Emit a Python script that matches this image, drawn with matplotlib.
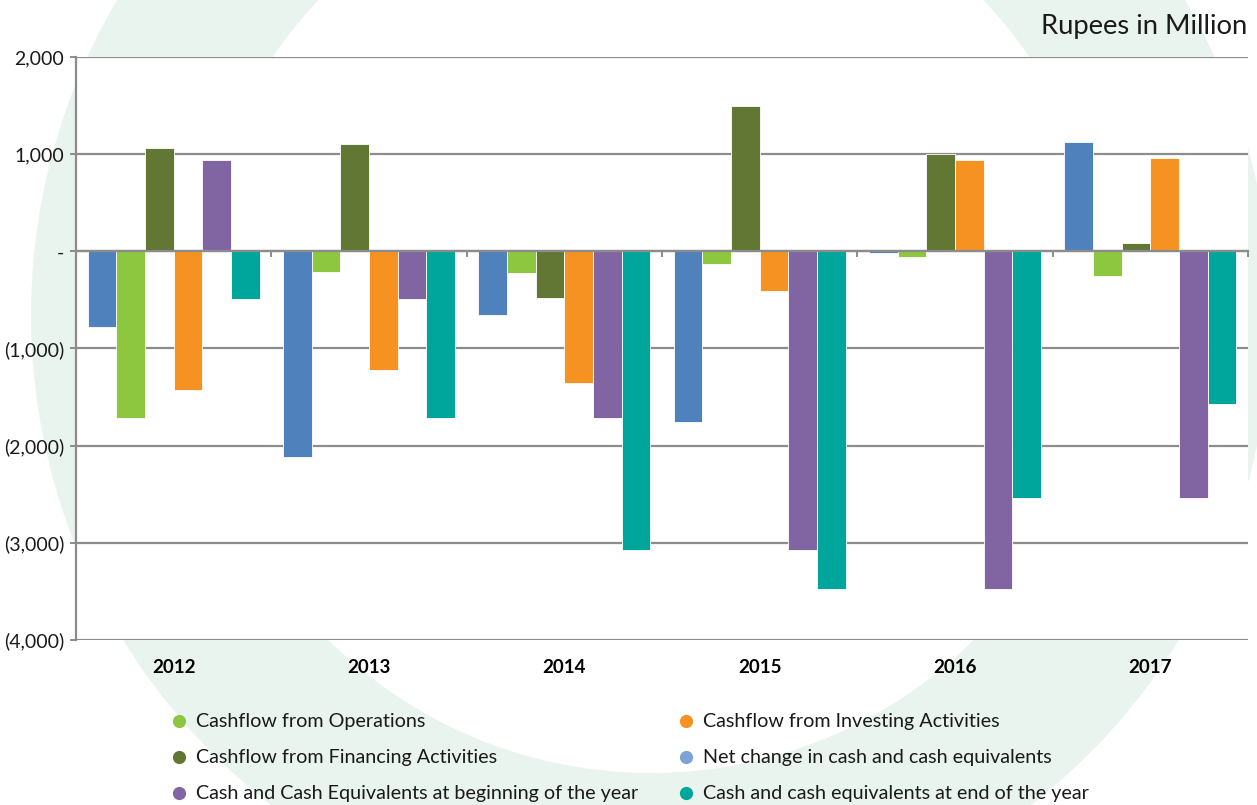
import matplotlib
matplotlib.use('Agg')
import matplotlib.pyplot as plt
import numpy as np
from matplotlib.patches import Wedge
from matplotlib.ticker import FuncFormatter

plt.rcParams['font.family'] = ['Lato', 'DejaVu Sans']

years = ['2012', '2013', '2014', '2015', '2016', '2017']

# Rupees in million, per year
net_change = [-774, -2121, -651, -1761, -14, 1127]
cf_operations = [-1720, -209, -226, -130, -55, -253]
cf_financing = [1059, 1103, -480, 1493, 1005, 82]
cf_investing = [-1429, -1220, -1357, -404, 935, 963]
cash_begin = [935, -493, -1713, -3070, -3471, -2535]
cash_end = [-493, -1713, -3070, -3471, -2535, -1569]

series = [
    ('Net change in cash and cash equivalents', net_change, '#4F81BD'),
    ('Cashflow from Operations', cf_operations, '#8DC63F'),
    ('Cashflow from Financing Activities', cf_financing, '#617733'),
    ('Cashflow from Investing Activities', cf_investing, '#F59222'),
    ('Cash and Cash Equivalents at beginning of the year', cash_begin, '#8165A2'),
    ('Cash and cash equivalents at end of the year', cash_end, '#00A69C'),
]

W, H = 1257, 805
fig = plt.figure(figsize=(W / 100, H / 100), dpi=100)

# background ring, drawn in pixel coordinates
bg = fig.add_axes([0, 0, 1, 1], zorder=0)
bg.set_xlim(0, W)
bg.set_ylim(H, 0)
bg.axis('off')
bg.add_patch(Wedge((651, 315), 620, 0, 360, width=162, color='#EAF4EE', lw=0))

ax = fig.add_axes([76 / W, 1 - 640 / H, (1248 - 76) / W, (640 - 57) / H], zorder=1)
ax.set_facecolor('white')

x = np.arange(len(years))
bw = 0.147
for k, (name, vals, col) in enumerate(series):
    ax.bar(x + (k - 2.5) * bw, vals, width=bw, color=col,
           edgecolor='white', linewidth=0.6, zorder=3)

grid_col = '#8C8C8C'
ax.set_xlim(-0.5, len(years) - 0.5)
ax.set_ylim(-4000, 2000)
ax.set_yticks(np.arange(-4000, 2001, 1000))


def fmt(v, pos):
    if v == 0:
        return '-'
    if v < 0:
        return '({:,.0f})'.format(-v)
    return '{:,.0f}'.format(v)


ax.yaxis.set_major_formatter(FuncFormatter(fmt))
ax.yaxis.grid(True, color=grid_col, linewidth=1.6, zorder=1)
ax.set_axisbelow(True)

for s in ['top', 'right']:
    ax.spines[s].set_visible(False)
ax.spines['left'].set_color(grid_col)
ax.spines['left'].set_linewidth(1.6)
ax.spines['bottom'].set_position(('data', 0))
ax.spines['bottom'].set_color(grid_col)
ax.spines['bottom'].set_linewidth(1.6)
ax.spines['bottom'].set_zorder(4)

ax.set_xticks(np.arange(-0.5, len(years), 1.0))
ax.set_xticklabels([])
ax.tick_params(axis='x', direction='out', length=4.5, width=1.4, color=grid_col)
ax.tick_params(axis='y', direction='out', length=4.5, width=1.4, color=grid_col,
               labelsize=14, pad=4, labelcolor='#1a1a1a')

for i, yr in enumerate(years):
    ax.annotate(yr, xy=(i, 0), xycoords=('data', 'axes fraction'),
                xytext=(0, -20), textcoords='offset points',
                ha='center', va='center', fontsize=13.5, fontweight='bold')

fig.text(1247 / W, 1 - 34 / H, 'Rupees in Million', ha='right', va='baseline',
         fontsize=19.7, color='#1a1a1a')

# legend, two columns of three
legend_order = [1, 2, 4, 3, 0, 5]
legend_colors = {0: '#7CA2D6'}
col_x = [179, 686]
row_y = [721, 757, 793]
for j, k in enumerate(legend_order):
    name, vals, col = series[k]
    cx = col_x[j // 3]
    cy = row_y[j % 3]
    bg.plot(cx, cy, 'o', color=legend_colors.get(k, col), markersize=9.5, markeredgewidth=0)
    bg.text(cx + 17, cy, name, va='center', ha='left', fontsize=14.2, color='#1a1a1a')

fig.savefig('out.png', dpi=100)
